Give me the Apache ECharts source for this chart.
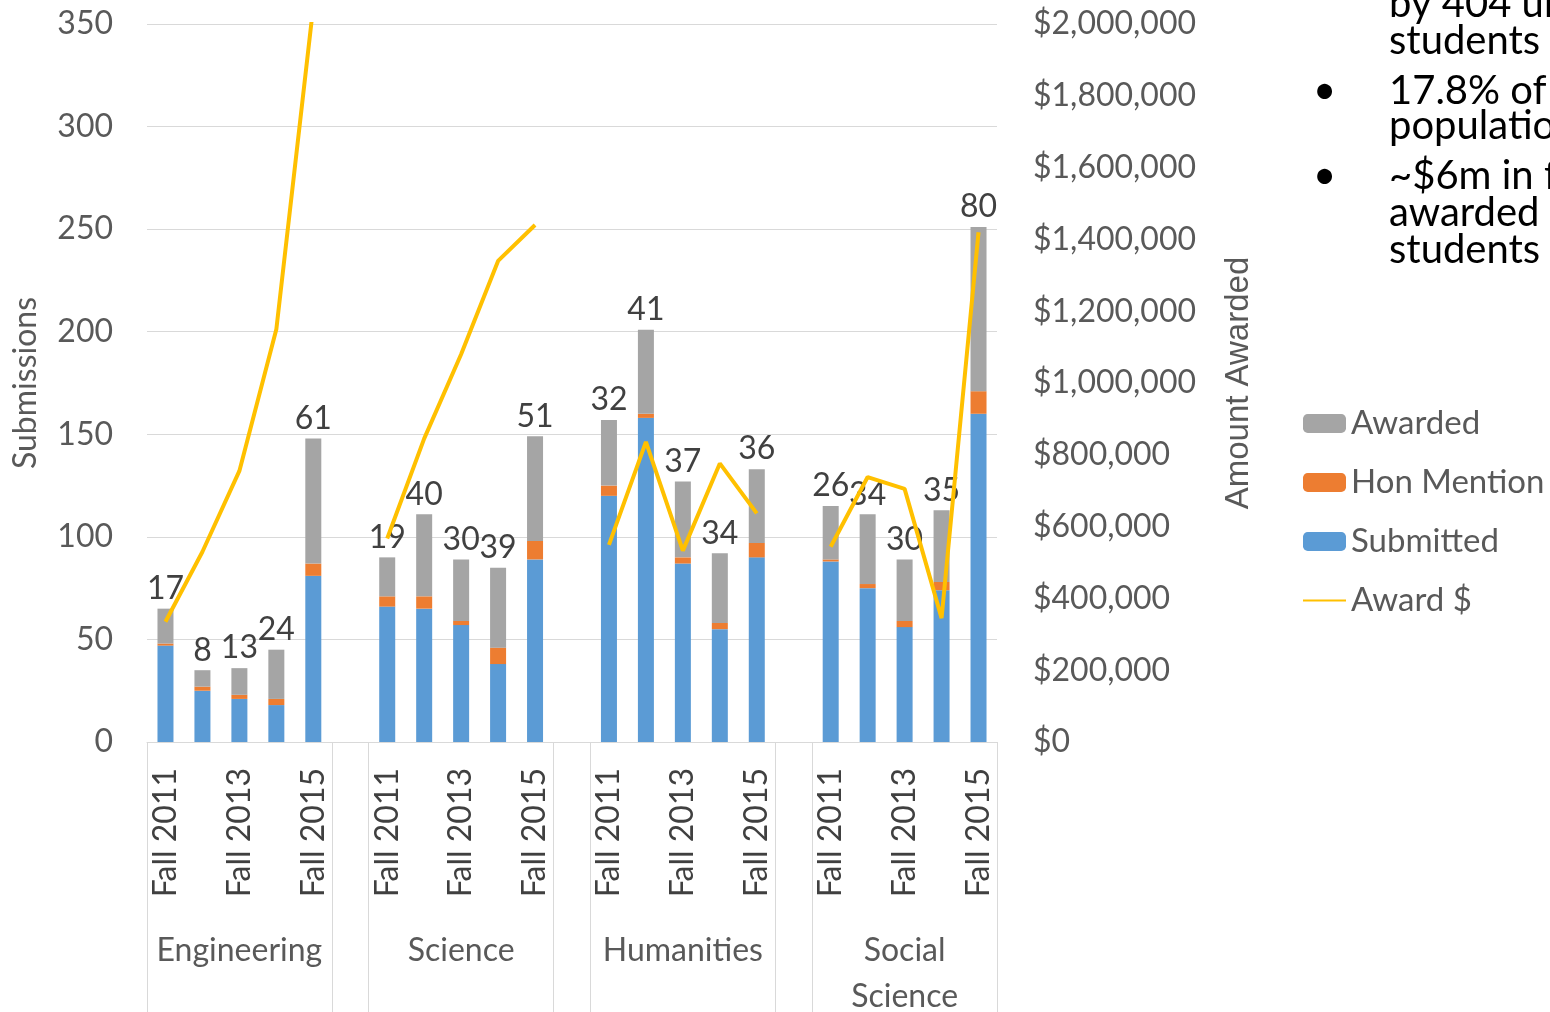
<!DOCTYPE html>
<html>
<head>
<meta charset="utf-8">
<script src="https://cdn.jsdelivr.net/npm/echarts@6/dist/echarts.min.js"></script>
<style>
  html, body { margin: 0; padding: 0; background: #fff; overflow: hidden; }
  #main { width: 1550px; height: 1012px; }
</style>
</head>
<body>
<div id="main"></div>
<script>
// categories
var years = ["Fall 2011", "Fall 2012", "Fall 2013", "Fall 2014", "Fall 2015"]
var fields = ["Engineering", "Science", "Humanities", "Social Science"]

// counts per field, one value per year
var submitted = [
  [47, 25, 21, 18, 81],
  [66, 65, 57, 38, 89],
  [120, 158, 87, 55, 90],
  [88, 75, 56, 74, 160]
]
var honMention = [
  [1, 2, 2, 3, 6],
  [5, 6, 2, 8, 9],
  [5, 2, 3, 3, 7],
  [1, 2, 3, 4, 11]
]
var awarded = [
  [17, 8, 13, 24, 61],
  [19, 40, 30, 39, 51],
  [32, 41, 37, 34, 36],
  [26, 34, 30, 35, 80]
]
// award $ per field
var awardDollars = [
  [335000, 530000, 755000, 1150000, 2050000],
  [567000, 845000, 1080000, 1340000, 1440000],
  [549000, 836000, 533000, 776000, 637000],
  [544000, 738000, 705000, 345000, 1420000]
]

// left / right tick settings
var countTicks = { min: 0, max: 350, interval: 50 }
var dollarTicks = { min: 0, max: 2000000, interval: 200000 }

// flatten into one category axis, a blank slot between fields
function flat(groups) {
  var out = []
  groups.forEach(function (g, gi) {
    if (gi > 0) out.push(null)
    g.forEach(function (v) { out.push(v) })
  })
  return out
}

var cats = []
var groupCats = []
fields.forEach(function (f, gi) {
  if (gi > 0) { cats.push(""); groupCats.push("") }
  years.forEach(function (y, yi) {
    cats.push(y)
    groupCats.push(yi === 2 ? f : "")
  })
})

var txt = "#595959"
var font = "Lato"

var chart = echarts.init(document.getElementById("main"))

var option = {
  animation: false,
  backgroundColor: "#ffffff",
  grid: { left: 147, right: 553, top: 24, bottom: 270, outerBoundsMode: "none" },
  legend: {
    orient: "vertical",
    left: 1297,
    top: 402,
    itemWidth: 43,
    itemHeight: 19,
    itemGap: 26,
    data: [
      "Awarded",
      "Hon Mention",
      "Submitted",
      { name: "Award $", itemStyle: { opacity: 0 } }
    ],
    textStyle: { fontSize: 33, color: txt, fontFamily: font }
  },
  xAxis: [
    {
      type: "category",
      data: cats,
      axisLine: { lineStyle: { color: "#d9d9d9" } },
      axisTick: {
        show: true,
        length: 270,
        lineStyle: { color: "#d9d9d9", width: 1 },
        // field separators: group edges and the blank slots
        interval: function (i) {
          return i === 0 || cats[i] === "" || cats[i - 1] === "" || i >= cats.length
        }
      },
      axisLabel: {
        interval: 1,
        rotate: 90,
        margin: 26,
        fontSize: 32,
        color: "#404040",
        fontFamily: font
      }
    },
    {
      type: "category",
      data: groupCats,
      position: "bottom",
      axisLine: { show: false },
      axisTick: { show: false },
      axisLabel: {
        interval: 0,
        margin: 186,
        fontSize: 32,
        lineHeight: 46,
        color: txt,
        fontFamily: font,
        verticalAlign: "top",
        formatter: function (v) { return v.split(" ").join("\n") }
      }
    }
  ],
  yAxis: [
    {
      type: "value",
      min: countTicks.min,
      max: countTicks.max,
      interval: countTicks.interval,
      name: "Submissions",
      nameLocation: "middle",
      nameGap: 105,
      nameTextStyle: { fontSize: 32, color: txt, fontFamily: font },
      axisLine: { show: false },
      axisTick: { show: false },
      axisLabel: { margin: 34, fontSize: 32, color: txt, fontFamily: font },
      splitLine: { lineStyle: { color: "#d9d9d9" } }
    },
    {
      type: "value",
      position: "right",
      min: dollarTicks.min,
      max: dollarTicks.max,
      interval: dollarTicks.interval,
      name: "Amount Awarded",
      nameLocation: "middle",
      nameRotate: 90,
      nameGap: 225,
      nameTextStyle: { fontSize: 33, color: txt, fontFamily: "Liberation Sans" },
      axisLine: { show: false },
      axisTick: { show: false },
      splitLine: { show: false },
      axisLabel: {
        margin: 36,
        fontSize: 32,
        color: txt,
        fontFamily: font,
        formatter: function (v) { return "$" + v.toLocaleString("en-US") }
      }
    }
  ],
  series: [
    {
      name: "Submitted",
      type: "bar",
      stack: "s",
      barWidth: 16,
      itemStyle: { color: "#5B9BD5" },
      data: flat(submitted)
    },
    {
      name: "Hon Mention",
      type: "bar",
      stack: "s",
      barWidth: 16,
      itemStyle: { color: "#ED7D31" },
      data: flat(honMention)
    },
    {
      name: "Awarded",
      type: "bar",
      stack: "s",
      barWidth: 16,
      itemStyle: { color: "#A5A5A5" },
      label: {
        show: true,
        position: "top",
        distance: 4,
        fontSize: 32,
        color: "#404040",
        fontFamily: font
      },
      data: flat(awarded)
    },
    {
      name: "Award $",
      type: "line",
      yAxisIndex: 1,
      symbol: "none",
      connectNulls: false,
      z: 5,
      lineStyle: { color: "#FFC000", width: 4 },
      itemStyle: { color: "#FFC000" },
      data: flat(awardDollars)
    }
  ],
  graphic: [
    {
      type: "text", left: 1389, top: -16,
      style: { text: "by 404 undergraduate\nstudents", font: "40px Lato", fill: "#000", lineHeight: 37 }
    },
    {
      type: "text", left: 1313, top: 71,
      style: { text: "\u2022", font: "40px Lato", fill: "#000", lineHeight: 35 }
    },
    {
      type: "text", left: 1389, top: 71,
      style: { text: "17.8% of graduate\npopulation", font: "40px Lato", fill: "#000", lineHeight: 35 }
    },
    {
      type: "text", left: 1313, top: 156,
      style: { text: "\u2022", font: "40px Lato", fill: "#000", lineHeight: 37 }
    },
    {
      type: "text", left: 1389, top: 156,
      style: { text: "~$6m in funding\nawarded to\nstudents", font: "40px Lato", fill: "#000", lineHeight: 37 }
    }
  ]
}

chart.setOption(option)
</script>
</body>
</html>
